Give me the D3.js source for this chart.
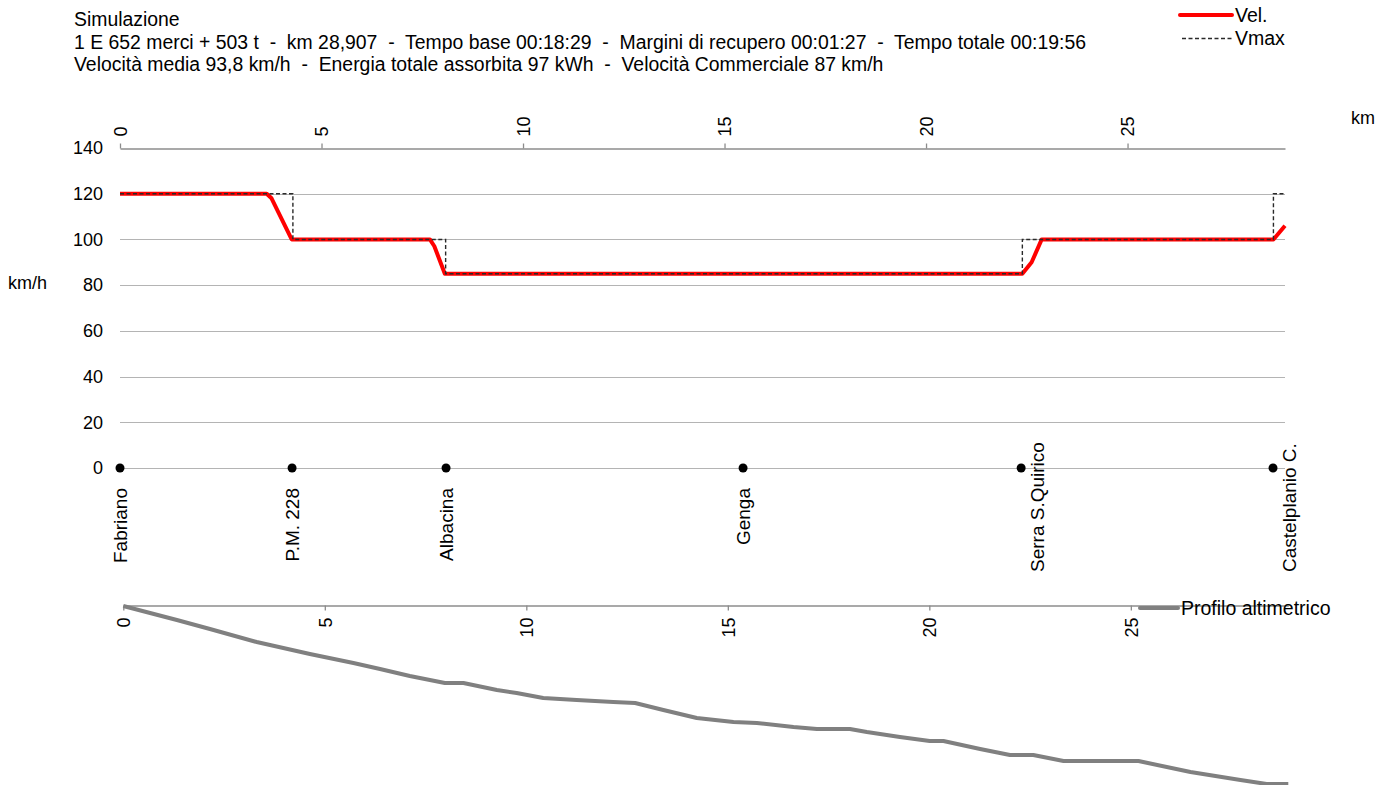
<!DOCTYPE html>
<html>
<head>
<meta charset="utf-8">
<script src="https://cdn.jsdelivr.net/npm/d3@7"></script>
<style>
  body { margin: 0; background: #ffffff; }
  svg { font-family: "Liberation Sans", Arial, sans-serif; }
</style>
</head>
<body>
<div id="chart"></div>
<script>
// header texts
var titleLines = [
  'Simulazione',
  '1 E 652 merci + 503 t  -  km 28,907  -  Tempo base 00:18:29  -  Margini di recupero 00:01:27  -  Tempo totale 00:19:56',
  'Velocità media 93,8 km/h  -  Energia totale assorbita 97 kWh  -  Velocità Commerciale 87 km/h'
];

// speed (km, km/h)
var velKm   = [0, 3.64, 3.76, 4.26, 7.69, 7.80, 8.06, 22.39, 22.62, 22.87, 28.62, 28.907];
var velKmh  = [120, 120, 118, 100, 100, 97, 85, 85, 90, 100, 100, 106];
var vmaxKm  = [0, 4.29, 8.08, 22.39, 28.62, 28.907];
var vmaxKmh = [120, 100, 85, 100, 120, 120];

// stations
var stationNames = ['Fabriano', 'P.M. 228', 'Albacina', 'Genga', 'Serra S.Quirico', 'Castelplanio C.'];
var stationKm    = [0, 4.27, 8.09, 15.46, 22.36, 28.61];

// altimetric profile (km, m)
var profKm  = [0, 1.33, 2.15, 3.31, 4.63, 5.71, 6.37, 7.11, 7.98, 8.44, 9.27, 9.76, 10.42, 11.25, 12.16, 12.70,
               13.40, 14.23, 15.14, 15.72, 16.63, 17.21, 18.03, 18.45, 19.27, 20.01, 20.35, 21.26, 22.00, 22.58,
               23.33, 25.19, 26.48, 27.72, 28.37, 28.907];
var profAlt = [324, 310, 301, 288, 276, 267, 261, 254, 247, 247, 240, 237, 232, 230, 228, 227,
               220, 212, 208, 207, 203, 201, 201, 198, 193, 189, 189, 181, 175, 175,
               169, 169, 158, 150, 146, 146];

var kmTicks = [0, 5, 10, 15, 20, 25];
var speedTicks = [0, 20, 40, 60, 80, 100, 120, 140];

var W = 1391, H = 785;

var svg = d3.select('#chart').append('svg')
  .attr('width', W)
  .attr('height', H)
  .style('display', 'block')
  .style('background', '#ffffff');

var xScale = d3.scaleLinear().domain([0, 28.907]).range([120, 1285]);
var yScale = d3.scaleLinear().domain([0, 140]).range([468, 148]);

var xProf = d3.scaleLinear().domain([0, 28.907]).range([123.3, 1288.3]);
var yProf = d3.scaleLinear().domain([325, 145]).range([605, 785]);

// header
svg.append('g').selectAll('text').data(titleLines)
  .enter().append('text')
  .attr('x', 74)
  .attr('y', function(d, i) { return 26 + i * 22.5; })
  .style('font-size', '19.4px')
  .style('fill', '#000')
  .attr('xml:space', 'preserve')
  .text(function(d) { return d; });

// gridlines
svg.append('g').selectAll('line').data(speedTicks.filter(function(d) { return d < 140; }))
  .enter().append('line')
  .attr('x1', xScale(0))
  .attr('x2', xScale(28.907))
  .attr('y1', function(d) { return Math.round(yScale(d)) + 0.5; })
  .attr('y2', function(d) { return Math.round(yScale(d)) + 0.5; })
  .style('stroke', '#b4b4b4')
  .style('stroke-width', 1);

// y tick labels
svg.append('g').selectAll('text').data(speedTicks)
  .enter().append('text')
  .attr('x', 103)
  .attr('y', function(d) { return yScale(d); })
  .attr('dy', '0.35em')
  .attr('text-anchor', 'end')
  .style('font-size', '18px')
  .text(function(d) { return d; });

svg.append('text')
  .attr('x', 8)
  .attr('y', 289)
  .style('font-size', '18px')
  .text('km/h');

// top km axis
var topAxis = d3.axisTop(xScale).tickValues(kmTicks).tickSize(5).tickSizeOuter(0).tickFormat(d3.format('d'));
var topG = svg.append('g').attr('transform', 'translate(0,' + (Math.round(yScale(140)) + 0.5) + ')');
topAxis(topG);
topG.select('.domain').style('stroke', '#8c8c8c').style('stroke-width', 1.3);
topG.selectAll('line').style('stroke', '#8c8c8c').style('stroke-width', 1.3);
topG.selectAll('text')
  .attr('transform', 'rotate(-90)')
  .attr('x', 12)
  .attr('y', 0)
  .attr('dy', '0.35em')
  .attr('text-anchor', 'start')
  .style('font-size', '18px')
  .style('font-family', '"Liberation Sans", Arial, sans-serif')
  .style('fill', '#000');

svg.append('text')
  .attr('x', 1351)
  .attr('y', 124)
  .style('font-size', '18px')
  .text('km');

// speed lines
var velPts = velKm.map(function(k, i) { return [k, velKmh[i]]; });
var vmaxPts = vmaxKm.map(function(k, i) { return [k, vmaxKmh[i]]; });

var line = d3.line()
  .x(function(d) { return xScale(d[0]); })
  .y(function(d) { return yScale(d[1]); });

svg.append('path')
  .datum(velPts)
  .attr('d', line)
  .style('fill', 'none')
  .style('stroke', '#ff0000')
  .style('stroke-width', 4)
  .style('stroke-linejoin', 'round');

svg.append('path')
  .datum(vmaxPts)
  .attr('d', line.curve(d3.curveStepAfter))
  .style('fill', 'none')
  .style('stroke', '#2a2a2a')
  .style('stroke-width', 1.4)
  .style('stroke-dasharray', '4,2.5');

// stations
svg.append('g').selectAll('circle').data(stationKm)
  .enter().append('circle')
  .attr('cx', function(d) { return xScale(d); })
  .attr('cy', yScale(0))
  .attr('r', 4.5)
  .style('fill', '#000');

var stLabels = svg.append('g').selectAll('text').data(stationNames)
  .enter().append('text')
  .attr('text-anchor', 'start')
  .attr('dy', '0.35em')
  .style('font-size', '19px')
  .text(function(d) { return d; });

// long names do not fit below the dot: they go to its right, ending on the same bottom line
stLabels.each(function(d, i) {
  var len = this.getComputedTextLength();
  var bottom = yScale(0) + 20 + len;
  var dx = 0;
  if (bottom > 572) { bottom = 572; dx = 16; }
  d3.select(this).attr('transform', 'translate(' + (xScale(stationKm[i]) + dx) + ',' + bottom + ') rotate(-90)');
});

// profile axis
var botAxis = d3.axisBottom(xProf).tickValues(kmTicks).tickSize(5).tickSizeOuter(0).tickFormat(d3.format('d'));
var botG = svg.append('g').attr('transform', 'translate(0,605.5)');
botAxis(botG);
botG.select('.domain').style('stroke', '#8c8c8c').style('stroke-width', 1.3);
botG.selectAll('line').style('stroke', '#8c8c8c').style('stroke-width', 1.3);
botG.selectAll('text')
  .attr('transform', 'rotate(-90)')
  .attr('x', -12)
  .attr('y', 0)
  .attr('dy', '0.35em')
  .attr('text-anchor', 'end')
  .style('font-size', '18px')
  .style('font-family', '"Liberation Sans", Arial, sans-serif')
  .style('fill', '#000');

var profPts = profKm.map(function(k, i) { return [k, profAlt[i]]; });

svg.append('path')
  .datum(profPts)
  .attr('d', d3.line()
    .x(function(d) { return xProf(d[0]); })
    .y(function(d) { return yProf(d[1]); }))
  .style('fill', 'none')
  .style('stroke', '#808080')
  .style('stroke-width', 4)
  .style('stroke-linejoin', 'round');

// legends
var legend = svg.append('g');
legend.append('line')
  .attr('x1', 1180).attr('x2', 1232).attr('y1', 15).attr('y2', 15)
  .style('stroke', '#ff0000').style('stroke-width', 4).style('stroke-linecap', 'round');
legend.append('text').attr('x', 1235).attr('y', 22).style('font-size', '19.5px').text('Vel.');
legend.append('line')
  .attr('x1', 1182).attr('x2', 1232).attr('y1', 38.5).attr('y2', 38.5)
  .style('stroke', '#2a2a2a').style('stroke-width', 1.3).style('stroke-dasharray', '4,2.5');
legend.append('text').attr('x', 1235).attr('y', 45).style('font-size', '19.5px').text('Vmax');

legend.append('line')
  .attr('x1', 1140).attr('x2', 1178).attr('y1', 608).attr('y2', 608)
  .style('stroke', '#808080').style('stroke-width', 4).style('stroke-linecap', 'round');
legend.append('text').attr('x', 1181).attr('y', 615).style('font-size', '19.5px').text('Profilo altimetrico');
</script>
</body>
</html>
